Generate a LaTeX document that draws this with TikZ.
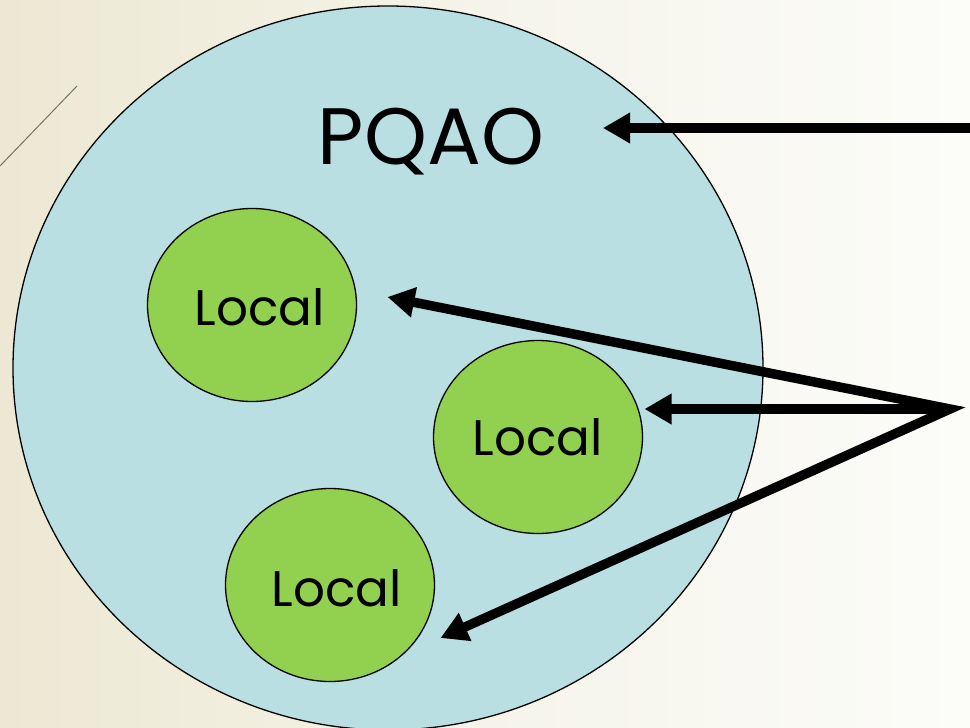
\documentclass[tikz,border=0pt]{standalone}
\usepackage{fontspec}
\setmainfont{Poppins}
\usepackage{tikz}
\usetikzlibrary{arrows.meta}
\usetikzlibrary{positioning}
\usetikzlibrary{calc}
\usetikzlibrary{shapes.geometric}
\definecolor{bgleft}{RGB}{236,232,211}
\definecolor{bgright}{RGB}{252,252,249}
\definecolor{pqaoblue}{RGB}{185,223,227}
\definecolor{localgreen}{RGB}{146,208,80}
\definecolor{deco}{RGB}{110,120,95}

\begin{document}
\begin{tikzpicture}[x=1pt,y=-1pt,
  region/.style={ellipse, inner sep=0mm, outer sep=0mm,
    draw=black, line width=1.3pt},
  pqao/.style={region, fill=pqaoblue,
    minimum width=750pt, minimum height=724pt},
  local/.style={region, fill=localgreen,
    minimum width=209pt, minimum height=193pt},
  lbl/.style={anchor=base, inner sep=0pt,
    font=\fontsize{50}{60}\selectfont},
  pointer/.style={line width=9.5pt,
    -{Triangle[length=27pt,width=29pt]}}]

  \shade[left color=bgleft, right color=bgright, middle color=bgright!60!bgleft]
    (0,0) rectangle (970,728);
  \useasboundingbox (0,0) rectangle (970,728);
  \draw[deco, line width=1pt] (0,166) -- (77,86);

  \node[pqao] at (388,368) (P) {};
  \node[lbl, font=\fontsize{80}{96}\selectfont] at (431,164) (Ptxt) {PQAO};

  \node[local] at (252,305) (L1) {};
  \node[local] at (538,437) (L2) {};
  \node[local] at (330,585) (L3) {};

  \node[lbl] at ($(L1)+(8,20)$) (t1) {Local};
  \node[lbl] at ($(L2)+(0,18)$) (t2) {Local};
  \node[lbl] at ($(L3)+(7,21)$) (t3) {Local};

\coordinate (inP) at (970,128);
\coordinate (tipP) at (603,128);
\coordinate (hub) at (950,409);
\coordinate (tipL1) at ($(L1.east)+(31,-8)$);
\coordinate (tipL2) at ($(L2.east)+(2,-28)$);
\coordinate (tipL3) at ($(L3.east)+(6,53)$);

  \path[pointer]
 (inP) edge (tipP)
 (hub) edge (tipL2);

\draw[line width=9.5pt, line join=miter,
  {Triangle[length=27pt,width=29pt]}-{Triangle[length=27pt,width=29pt]}]
  (tipL1) -- (hub) -- (tipL3);

\end{tikzpicture}
\end{document}
